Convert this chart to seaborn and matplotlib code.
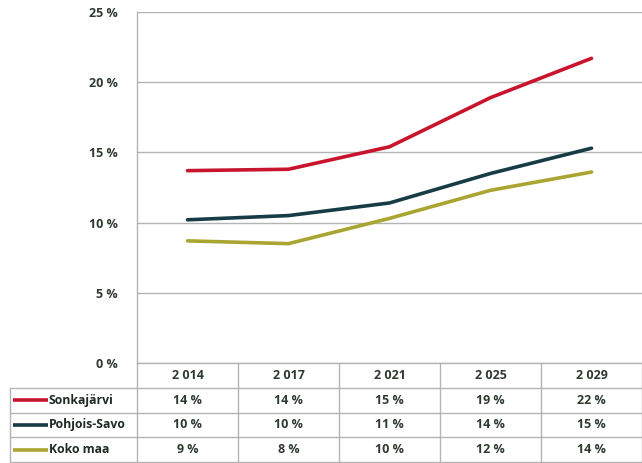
import matplotlib
matplotlib.use("Agg")
import matplotlib.pyplot as plt
import seaborn as sns
import pandas as pd
import numpy as np

years = ["2 014", "2 017", "2 021", "2 025", "2 029"]
series_names = ["Sonkajärvi", "Pohjois-Savo", "Koko maa"]
sonkajarvi = [13.7, 13.8, 15.4, 18.9, 21.7]
pohjois_savo = [10.2, 10.5, 11.4, 13.5, 15.3]
koko_maa = [8.7, 8.5, 10.3, 12.3, 13.6]
table_sonkajarvi = ["14 %", "14 %", "15 %", "19 %", "22 %"]
table_pohjois_savo = ["10 %", "10 %", "11 %", "14 %", "15 %"]
table_koko_maa = ["9 %", "8 %", "10 %", "12 %", "14 %"]
colors = ["#c8142c", "#183c46", "#aaa532"]
yticks = [0, 5, 10, 15, 20, 25]

sns.set_theme(style="white")
plt.rcParams['font.family'] = ['Open Sans', 'DejaVu Sans']

values = [sonkajarvi, pohjois_savo, koko_maa]
df = pd.DataFrame({
    "x": np.tile(np.arange(len(years)), len(series_names)),
    "value": np.concatenate(values),
    "series": np.repeat(series_names, len(years)),
})

W, H = 642, 463
fig = plt.figure(figsize=(W / 100, H / 100), dpi=100)
left = 137 / W
ax = fig.add_axes([left, 1 - 363 / H, 1 - left, (363 - 12) / H])
sns.lineplot(data=df, x="x", y="value", hue="series", palette=colors,
             hue_order=series_names, linewidth=2.6, legend=False, ax=ax)
ax.set_xlim(-0.5, len(years) - 0.5)
ax.set_ylim(0, 25)
ax.set_yticks(yticks)
ax.set_yticklabels([f"{v} %" for v in yticks], fontsize=9, fontweight="bold", color="#2e3a30")
ax.set_xticks([])
ax.set_xlabel("")
ax.set_ylabel("")
for v in yticks:
    ax.axhline(v, color="#b4b4b4", lw=1.0, zorder=0)
for s in ["top", "right", "bottom"]:
    ax.spines[s].set_visible(False)
ax.spines["left"].set_color("#b4b4b4")
ax.spines["left"].set_linewidth(1.0)
ax.tick_params(axis="y", length=4, color="#b4b4b4", pad=10)

# data table
tab = fig.add_axes([left, 1 / H, 1 - left, 99 / H])
tab.set_xlim(-0.5, len(years) - 0.5)
tab.set_ylim(4, 0)
tab.axis("off")
label_left = -0.5 - 127 / 101
gc = "#b4b4b4"
for i, y in enumerate(years):
    tab.text(i, 0.5, y, ha="center", va="center", fontsize=9, fontweight="bold", color="#2e3a30")
tables = [table_sonkajarvi, table_pohjois_savo, table_koko_maa]
for r, (name, vals, c) in enumerate(zip(series_names, tables, colors), start=1):
    tab.plot([label_left + 0.03, label_left + 0.38], [r + 0.5, r + 0.5], color=c, lw=2.6,
             clip_on=False, solid_capstyle="butt")
    tab.text(label_left + 0.385, r + 0.5, name, ha="left", va="center", fontsize=8.8,
             fontweight="bold", color="#1e2a22", clip_on=False)
    for i, v in enumerate(vals):
        tab.text(i, r + 0.5, v, ha="center", va="center", fontsize=9, fontweight="bold", color="#2e3a30")
for r in range(1, 5):
    tab.plot([label_left, len(years) - 0.5], [r, r], color=gc, lw=1.0, clip_on=False)
tab.plot([-0.5, len(years) - 0.5], [0, 0], color=gc, lw=1.0, clip_on=False)
for i in range(len(years) + 1):
    tab.plot([i - 0.5, i - 0.5], [0, 4], color=gc, lw=1.0, clip_on=False)
tab.plot([label_left, label_left], [1, 4], color=gc, lw=1.0, clip_on=False)

fig.savefig("out.png", dpi=100)
